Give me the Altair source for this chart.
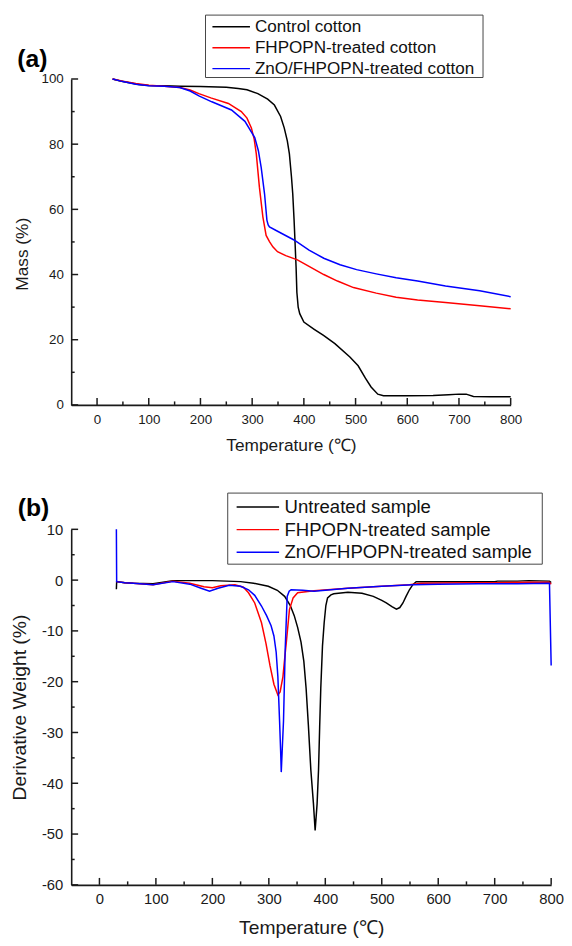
import altair as alt
import pandas as pd

FONT = "Liberation Sans"
INK = "#1a1a1a"

# ---------------- panel (a): TG curves ----------------
series_a = ["Control cotton", "FHPOPN-treated cotton", "ZnO/FHPOPN-treated cotton"]
colors = ["#000000", "#ff0000", "#0000ff"]

ctrl_T = [30, 45, 60, 80, 100, 130, 160, 200, 250, 273, 290, 311, 330, 343, 355, 362, 368, 372, 376, 378.5,
          381, 383, 385, 386.5, 389, 392, 400, 420, 438, 460, 489, 505, 519, 530, 543, 554, 600, 650, 680, 700,
          714, 728, 760, 800]
ctrl_M = [100, 99.4, 98.9, 98.3, 98.0, 97.9, 97.8, 97.7, 97.5, 97.1, 96.7, 95.5, 93.8, 92.0, 88.5, 85.0, 81.0,
          77.0, 70.0, 64.8, 57.0, 49.7, 42.0, 34.5, 30.0, 28.0, 25.4, 23.2, 21.3, 18.8, 14.7, 12.0, 8.2, 5.5, 3.3,
          2.8, 2.8, 2.9, 3.1, 3.3, 3.3, 2.6, 2.5, 2.5]

fh_T = [30, 50, 75, 100, 130, 160, 180, 197, 220, 254, 279, 290, 298.5, 304, 308, 314, 320.7, 327, 333.5, 340,
        349, 365, 387.5, 410, 438.5, 465, 496, 540, 578.5, 620, 674, 740, 800]
fh_M = [100, 99.3, 98.6, 98.1, 97.8, 97.4, 96.6, 95.5, 94.2, 92.5, 90.0, 88.0, 85.0, 81.5, 77.0, 66.8, 57.7,
        52.0, 50.1, 48.5, 47.0, 45.8, 44.5, 42.5, 40.0, 38.0, 36.0, 34.3, 33.0, 32.2, 31.4, 30.4, 29.5]

zn_T = [30, 50, 75, 100, 130, 160, 180, 197, 222, 260, 286, 305, 312, 317.5, 324, 328.5, 331, 333.5, 350, 381,
        410, 438.5, 470, 502, 540, 578.5, 620, 674, 740, 800]
zn_M = [100, 99.2, 98.4, 97.9, 97.8, 97.4, 96.3, 94.8, 93.0, 90.5, 87.0, 82.0, 78.0, 72.8, 64.7, 56.7, 55.2,
        54.6, 53.2, 50.6, 47.5, 45.0, 43.0, 41.5, 40.2, 39.0, 38.0, 36.5, 35.0, 33.2]

# ---------------- panel (b): DTG curves ----------------
series_b = ["Untreated sample", "FHPOPN-treated sample", "ZnO/FHPOPN-treated sample"]

un_T = [30, 30.5, 45, 60, 95, 130, 200, 250, 273, 299, 315, 328, 338, 345, 351, 357, 362, 366, 370, 374.4,
        379, 382, 385.5, 388, 390, 392, 395, 398, 401, 404, 410, 415, 440, 465, 485, 500, 508, 518, 526, 532,
        537.5, 543, 549, 555, 561, 600, 650, 700, 705, 740, 760, 797, 800]
un_D = [-1.8, -0.3, -0.5, -0.6, -0.7, -0.1, -0.1, -0.3, -0.6, -1.2, -2.0, -3.2, -5.0, -7.0, -9.3, -12.2, -16.0,
        -21.3, -28.5, -37.4, -44.0, -49.3, -44.0, -37.4, -29.0, -21.3, -13.0, -8.4, -5.0, -3.5, -2.9, -2.7,
        -2.4, -2.6, -3.2, -4.0, -4.5, -5.2, -5.7, -5.4, -4.5, -3.2, -1.9, -0.9, -0.3, -0.3, -0.3, -0.3, -0.2,
        -0.2, -0.1, -0.2, -0.5]

fs_T = [30, 45, 60, 95, 130, 160, 185, 200, 215, 240, 255, 264, 275, 287, 295, 302, 309, 316, 320, 325, 328,
        331, 336.5, 343, 351, 380, 440, 500, 549, 570, 650, 700, 760, 797, 800]
fs_D = [-0.3, -0.5, -0.6, -0.9, -0.2, -0.6, -1.3, -1.5, -1.1, -0.9, -1.4, -2.5, -4.5, -8.4, -12.5, -16.8,
        -20.5, -22.6, -22.0, -19.0, -15.5, -12.2, -5.8, -3.5, -2.5, -2.1, -1.6, -1.2, -0.9, -0.6, -0.5, -0.5,
        -0.4, -0.4, -0.8]

zs_T = [30, 30.5, 45, 60, 95, 130, 160, 180, 195, 210, 230, 250, 264, 275, 287, 296, 304, 309, 313, 316, 319,
        321, 322, 323.5, 326, 329, 332.5, 336, 339.5, 360, 380, 440, 500, 555, 600, 671, 740, 797, 800]
zs_D = [10, -0.3, -0.5, -0.6, -0.9, -0.3, -0.8, -1.6, -2.2, -1.6, -1.0, -1.2, -1.9, -3.0, -5.1, -7.0, -9.0,
        -11.0, -14.2, -19.0, -27.7, -34.0, -37.8, -34.0, -27.7, -13.5, -3.2, -2.2, -1.9, -2.0, -2.2, -1.6, -1.2,
        -0.9, -0.8, -0.7, -0.7, -0.6, -16.8]

# ---------------- axis ticks ----------------
x_major = list(range(0, 801, 100))
x_minor = list(range(50, 751, 100))
ya_major = list(range(0, 101, 20))
ya_minor = list(range(10, 91, 20))
yb_major = list(range(-60, 11, 10))
yb_minor = list(range(-55, 6, 10))


def long_df(names, Ts, Vs, vname):
    rows = []
    for name, ts, vs in zip(names, Ts, Vs):
        for t, v in zip(ts, vs):
            rows.append({"series": name, "T": t, vname: v})
    return pd.DataFrame(rows)


def build_panel(df, vname, series, ytitle, ydomain, y_major, y_minor, W, H,
                fs_lab, fs_title, fs_leg, x_title_y, y_title_x, y_title_y,
                box, sym_x, text_x, rows_y, tag, tag_xy, lab_pad_x, lab_pad_y):
    xs = alt.Scale(domain=[-50, 800], nice=False, zero=False)
    ys = alt.Scale(domain=ydomain, nice=False, zero=False)
    cs = alt.Scale(domain=series, range=colors)

    xaxis = alt.Axis(values=x_major, ticks=False, tickSize=0, grid=False, domainColor=INK, domainWidth=1.6,
                     labelFont=FONT, labelFontSize=fs_lab, labelColor=INK, labelPadding=lab_pad_x,
                     labelExpr="datum.value + ''", labelFlush=False, labelOverlap=False,
                     title="Temperature (\u2103)", titleFont=FONT, titleFontSize=fs_title,
                     titleFontWeight="normal", titleColor=INK, titleY=x_title_y, titleBaseline="middle")
    ykw = dict(values=y_major, ticks=False, tickSize=0, grid=False, domainColor=INK, domainWidth=1.6,
               labelFont=FONT, labelFontSize=fs_lab, labelColor=INK, labelPadding=lab_pad_y,
               labelExpr="datum.value + ''", labelFlush=False, labelOverlap=False,
               title=ytitle, titleFont=FONT, titleFontSize=fs_title, titleFontWeight="normal",
               titleColor=INK, titleX=y_title_x, titleBaseline="middle")
    if y_title_y is not None:
        ykw["titleY"] = y_title_y
    yaxis = alt.Axis(**ykw)

    lines = alt.Chart(df).mark_line(strokeWidth=1.5).encode(
        x=alt.X("T:Q", scale=xs, axis=xaxis),
        y=alt.Y(f"{vname}:Q", scale=ys, axis=yaxis),
        color=alt.Color("series:N", scale=cs, legend=None),
    )

    def xticks(vals, L):
        return alt.Chart(pd.DataFrame({"T": vals})).mark_rule(color=INK, strokeWidth=1.5).encode(
            x=alt.X("T:Q", scale=xs, axis=xaxis), y=alt.value(H), y2=alt.value(H - L))

    def yticks(vals, L):
        return alt.Chart(pd.DataFrame({vname: vals})).mark_rule(color=INK, strokeWidth=1.5).encode(
            y=alt.Y(f"{vname}:Q", scale=ys, axis=yaxis), x=alt.value(0), x2=alt.value(L))

    tag_text = alt.Chart(pd.DataFrame({"tag": [tag]})).mark_text(
        align="left", baseline="middle", font=FONT, fontSize=25, fontWeight="bold", color="#000"
    ).encode(x=alt.value(tag_xy[0]), y=alt.value(tag_xy[1]), text="tag:N")

    main = alt.layer(lines, xticks(x_major, 7), xticks(x_minor, 3.5),
                     yticks(y_major, 7), yticks(y_minor, 3.5), tag_text)

    legdf = pd.DataFrame({"series": series})
    ly = alt.Y("series:N", scale=alt.Scale(type="point", domain=series, range=[rows_y[0], rows_y[1]], padding=0),
               axis=None)
    boxm = alt.Chart(pd.DataFrame({"b": [0]})).mark_rect(fill="white", stroke="#444", strokeWidth=1).encode(
        x=alt.value(box[0]), x2=alt.value(box[1]), y=alt.value(box[2]), y2=alt.value(box[3]))
    sym = alt.Chart(legdf).mark_rule(strokeWidth=1.5).encode(
        x=alt.value(sym_x[0]), x2=alt.value(sym_x[1]), y=ly,
        color=alt.Color("series:N", scale=cs, legend=None))
    txt = alt.Chart(legdf).mark_text(align="left", baseline="middle", font=FONT, fontSize=fs_leg,
                                     color="#111").encode(x=alt.value(text_x), y=ly, text="series:N")
    legend = alt.layer(boxm, sym, txt)

    return alt.layer(main, legend).resolve_scale(y="independent").properties(width=W, height=H)


df_a = long_df(series_a, [ctrl_T, fh_T, zn_T], [ctrl_M, fh_M, zn_M], "M")
df_b = long_df(series_b, [un_T, fs_T, zs_T], [un_D, fs_D, zs_D], "D")

top = build_panel(df_a, "M", series_a, "Mass (%)", [0, 100], ya_major, ya_minor, 445, 330,
                  13.5, 17.5, 17.3, 41, -49.3, 177,
                  (136, 417, -64.7, -1.5), (143, 181), 186, (-53, -10.5),
                  "(a)", (-54.6, -20.3), 7.5, 8)

bottom = build_panel(df_b, "D", series_b, "Derivative Weight (%)", [-60, 10], yb_major, yb_minor, 486, 360,
                     15, 19.5, 18.8, 43, -52.5, None,
                     (158.5, 477, -36.7, 35.3), (167.5, 210.5), 216, (-22.7, 23.3),
                     "(b)", (-54.1, -21.9), 7.2, 8.5)

chart = alt.vconcat(top, bottom, spacing=126, bounds="flush").configure(
    padding={"left": 1, "top": 0, "right": 0, "bottom": 0}
).configure_view(stroke=None)

chart.save("out.html", embed_options={"renderer": "svg", "actions": False})
